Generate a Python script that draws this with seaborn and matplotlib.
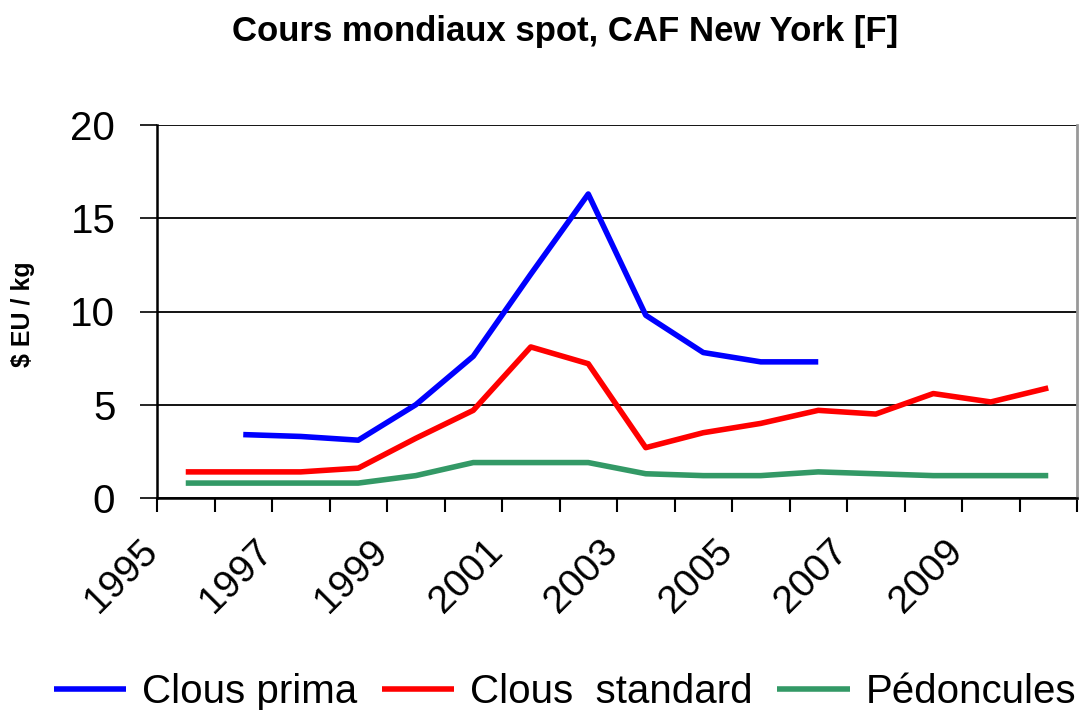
import numpy as np
import pandas as pd
import matplotlib
matplotlib.use("Agg")
import matplotlib.pyplot as plt
import matplotlib.transforms as mtransforms
import seaborn as sns

years = list(range(1995, 2011))
clous_prima = [np.nan, 3.4, 3.3, 3.1, 5.0, 7.6, 12.0, 16.3, 9.8, 7.8, 7.3, 7.3,
               np.nan, np.nan, np.nan, np.nan]
clous_standard = [1.4, 1.4, 1.4, 1.6, 3.2, 4.7, 8.1, 7.2, 2.7, 3.5, 4.0, 4.7,
                  4.5, 5.6, 5.15, 5.9]
pedoncules = [0.8, 0.8, 0.8, 0.8, 1.2, 1.9, 1.9, 1.9, 1.3, 1.2, 1.2, 1.4,
              1.3, 1.2, 1.2, 1.2]
series_names = ["Clous prima", "Clous  standard", "Pédoncules"]
colors = ["#0000FF", "#FF0000", "#339966"]
tick_labels = ["1995", "1997", "1999", "2001", "2003", "2005", "2007", "2009"]

sns.set_theme(style="white")
plt.rcParams['font.family'] = ['Liberation Sans', 'DejaVu Sans']
plt.rcParams['text.color'] = 'black'
plt.rcParams['xtick.color'] = 'black'
plt.rcParams['ytick.color'] = 'black'
plt.rcParams['axes.labelcolor'] = 'black'

fig = plt.figure(figsize=(10.88, 7.10), dpi=100)
ax = fig.add_axes([157 / 1088, 1 - 498 / 710, 920 / 1088, 373 / 710])

idx = np.arange(len(years))
for name, vals, col in zip(series_names, [clous_prima, clous_standard, pedoncules], colors):
    df = pd.DataFrame({"x": idx, "y": vals}).dropna()
    sns.lineplot(data=df, x="x", y="y", ax=ax, color=col, linewidth=4.0,
                 label=name, solid_capstyle="butt")

ax.set_xlim(-0.5, len(years) - 0.5)
ax.set_ylim(0, 20)
ax.set_yticks([0, 5, 10, 15, 20])
ax.set_yticklabels(["0", "5", "10", "15", "20"], fontsize=29)
ax.yaxis.grid(True, color="black", linewidth=1.3)
ax.set_axisbelow(True)

# category boundaries as ticks; labels every two categories
bounds = np.arange(-0.5, len(years), 1.0)
ax.set_xticks(bounds[::2][:len(tick_labels)])
ax.set_xticklabels(tick_labels, fontsize=28, rotation=45, ha="right",
                   rotation_mode="anchor")
ax.set_xticks(bounds, minor=True)
ax.tick_params(axis="x", which="both", direction="out", length=10, width=1.5,
               bottom=True)
ax.tick_params(axis="x", which="major", pad=12)
ax.tick_params(axis="y", direction="out", length=12, width=1.2, left=True, pad=18)

offset = mtransforms.ScaledTranslation(-18 / 100, -4 / 100, fig.dpi_scale_trans)
for lab in ax.get_xticklabels():
    lab.set_transform(lab.get_transform() + offset)

ax.spines["top"].set_visible(False)
ax.spines["right"].set_color("#999999")
ax.spines["right"].set_linewidth(2)
ax.spines["left"].set_color("black")
ax.spines["left"].set_linewidth(1.8)
ax.spines["bottom"].set_color("black")
ax.spines["bottom"].set_linewidth(1.8)

ax.set_xlabel("")
ax.set_ylabel("$ EU / kg", fontsize=18, fontweight="bold")
ax.yaxis.set_label_coords(-0.133, 0.493)

fig.text(565 / 1088, 1 - 32 / 710, "Cours mondiaux spot, CAF New York [F]",
         fontsize=25, fontweight="bold", ha="center", va="center")

handles, labels = ax.get_legend_handles_labels()
ax.get_legend().remove()
fig.legend(handles, labels, loc="center", bbox_to_anchor=(565 / 1088, 1 - 692 / 710),
           ncol=3, fontsize=29, frameon=False, handlelength=1.8, handletextpad=0.4,
           columnspacing=0.6)

fig.savefig("out.png", dpi=100)
